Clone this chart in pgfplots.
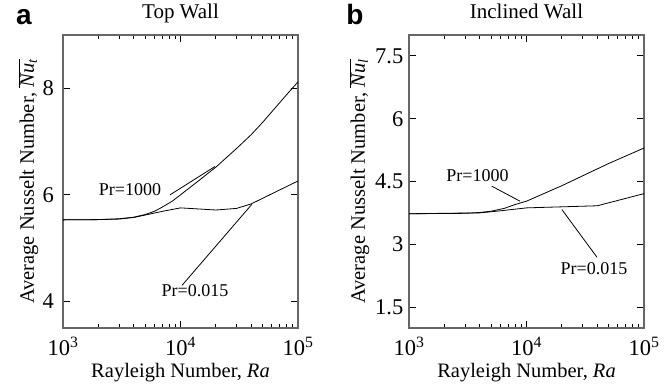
\documentclass[border=0pt]{standalone}
\usepackage{pgfplots}
\pgfplotsset{compat=1.18}
\usepackage{fontspec}
\setmainfont{Liberation Serif}
\newfontfamily\hv{Liberation Sans}
\pgfplotsset{
  myax/.style={
    width=235pt, height=293pt, scale only axis,
    xmin=1e3, xmax=1e5,
    xtick={1e3,1e4,1e5},
    xticklabels={10\textsuperscript{3},10\textsuperscript{4},10\textsuperscript{5}},
    minor xtick={2e3,3e3,4e3,5e3,6e3,7e3,8e3,9e3,2e4,3e4,4e4,5e4,6e4,7e4,8e4,9e4},
    tick align=inside,
    major tick length=7pt, minor tick length=4pt,
    axis line style={black!60, line width=1.1pt},
    every tick/.style={black, line width=1pt},
    tick label style={font=\fontsize{22.5}{24}\selectfont},
    xticklabel style={anchor=base, yshift=-27pt},
    label style={font=\fontsize{20.5}{24}\selectfont},
    xlabel={Rayleigh Number, \textit{Ra}},
    xlabel style={at={(axis description cs:0.5,0)}, anchor=base, yshift=-49pt},
    title style={at={(axis description cs:0.5,1)}, anchor=base, yshift=11pt, font=\fontsize{21}{24}\selectfont},
  },
  pl/.style={black, line width=0.8pt, no markers},
}
\begin{document}
\begin{tikzpicture}
\path[use as bounding box] (0,0) rectangle (669pt,389pt);
\node[font=\hv\bfseries\fontsize{28}{30}\selectfont, anchor=base] at (24pt,364pt) {a};
\node[font=\hv\bfseries\fontsize{28}{30}\selectfont, anchor=base] at (355pt,364pt) {b};
\begin{semilogxaxis}[myax, at={(63pt,61pt)}, anchor=south west,
  ymin=3.5, ymax=9, ytick={4,6,8}, yticklabels={4,6,8},
  yticklabel style={anchor=east, inner sep=0pt, xshift=-9pt},
  title={Top Wall},
  ylabel={Average Nusselt Number, $\overline{\mbox{\textit{Nu}}_{\mbox{\fontsize{14}{14}\selectfont\textit{t}}}}$},
  ylabel style={at={(axis description cs:-0.124,0.5)}, anchor=base},
]
% Pr=1000
\addplot[pl] coordinates {(1e3,5.53)(2e3,5.535)(3e3,5.55)(4e3,5.58)(5e3,5.63)(6e3,5.69)(7e3,5.77)(8.5e3,5.88)(1e4,6.0)(1.4e4,6.25)(2e4,6.52)(3e4,6.87)(4e4,7.13)(5e4,7.36)(6.5e4,7.65)(8e4,7.88)(1e5,8.12)};
% Pr=0.015
\addplot[pl] coordinates {(1e3,5.53)(2e3,5.535)(3e3,5.545)(4e3,5.575)(5e3,5.62)(7e3,5.69)(1e4,5.755)(2e4,5.715)(3e4,5.745)(4e4,5.83)(1e5,6.26)};
% leaders
\addplot[pl] coordinates {(8.15e3,6.0)(1.96e4,6.53)};
\addplot[pl] coordinates {(1.03e4,4.30)(4.04e4,5.82)};
\node[font=\fontsize{18}{20}\selectfont] at (axis cs:3.72e3,6.09) {Pr=1000};
\node[font=\fontsize{18}{20}\selectfont] at (axis cs:1.33e4,4.21) {Pr=0.015};
\end{semilogxaxis}
\begin{semilogxaxis}[myax, at={(409pt,61pt)}, anchor=south west,
  ymin=1, ymax=8, ytick={1.5,3,4.5,6,7.5}, yticklabels={1.5,3,4.5,6,7.5},
  yticklabel style={anchor=east, inner sep=0pt, xshift=-5.5pt},
  title={Inclined Wall},
  ylabel={Average Nusselt Number, $\overline{\mbox{\textit{Nu}}_{\mbox{\fontsize{14}{14}\selectfont\textit{l}}}}$},
  ylabel style={at={(axis description cs:-0.188,0.5)}, anchor=base},
]
% Pr=1000
\addplot[pl] coordinates {(1e3,3.73)(3e3,3.74)(4e3,3.76)(5e3,3.79)(6.5e3,3.86)(8e3,3.95)(1e4,4.03)(2e4,4.4)(5e4,4.93)(1e5,5.3)};
% Pr=0.015
\addplot[pl] coordinates {(1e3,3.73)(4e3,3.75)(6e3,3.8)(1e4,3.87)(4e4,3.92)(1e5,4.21)};
% leaders
\addplot[pl] coordinates {(5.05e3,4.39)(8.8e3,4.03)};
\addplot[pl] coordinates {(2.0e4,3.83)(3.98e4,2.69)};
\node[font=\fontsize{18}{20}\selectfont] at (axis cs:3.83e3,4.63) {Pr=1000};
\node[font=\fontsize{18}{20}\selectfont] at (axis cs:3.75e4,2.43) {Pr=0.015};
\end{semilogxaxis}
\end{tikzpicture}
\end{document}
